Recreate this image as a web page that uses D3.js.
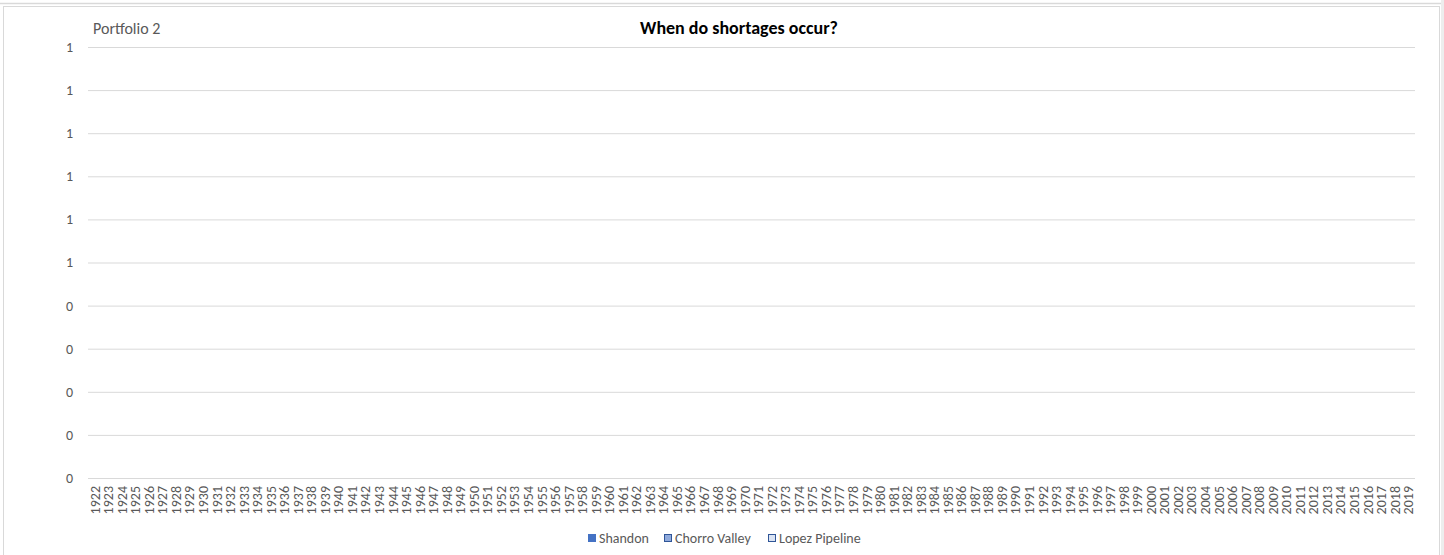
<!DOCTYPE html>
<html>
<head>
<meta charset="utf-8">
<script src="https://cdn.jsdelivr.net/npm/d3@7"></script>
<style>
  html, body { margin: 0; padding: 0; background: #ffffff; }
  svg { display: block; }
  text { font-family: Carlito, Lato, "Open Sans", sans-serif; }
</style>
</head>
<body>
<svg id="chart" width="1444" height="555"></svg>
<script>
// ---- Data ----
const years = [1922,1923,1924,1925,1926,1927,1928,1929,1930,1931,1932,1933,1934,1935,1936,1937,1938,1939,1940,1941,
  1942,1943,1944,1945,1946,1947,1948,1949,1950,1951,1952,1953,1954,1955,1956,1957,1958,1959,1960,1961,
  1962,1963,1964,1965,1966,1967,1968,1969,1970,1971,1972,1973,1974,1975,1976,1977,1978,1979,1980,1981,
  1982,1983,1984,1985,1986,1987,1988,1989,1990,1991,1992,1993,1994,1995,1996,1997,1998,1999,2000,2001,
  2002,2003,2004,2005,2006,2007,2008,2009,2010,2011,2012,2013,2014,2015,2016,2017,2018,2019];

const seriesNames = ["Shandon", "Chorro Valley", "Lopez Pipeline"];

const shandon = [0,0,0,0,0,0,0,0,0,0,0,0,0,0,0,0,0,0,0,0,
  0,0,0,0,0,0,0,0,0,0,0,0,0,0,0,0,0,0,0,0,
  0,0,0,0,0,0,0,0,0,0,0,0,0,0,0,0,0,0,0,0,
  0,0,0,0,0,0,0,0,0,0,0,0,0,0,0,0,0,0,0,0,
  0,0,0,0,0,0,0,0,0,0,0,0,0,0,0,0,0,0];
const chorroValley = [0,0,0,0,0,0,0,0,0,0,0,0,0,0,0,0,0,0,0,0,
  0,0,0,0,0,0,0,0,0,0,0,0,0,0,0,0,0,0,0,0,
  0,0,0,0,0,0,0,0,0,0,0,0,0,0,0,0,0,0,0,0,
  0,0,0,0,0,0,0,0,0,0,0,0,0,0,0,0,0,0,0,0,
  0,0,0,0,0,0,0,0,0,0,0,0,0,0,0,0,0,0];
const lopezPipeline = [0,0,0,0,0,0,0,0,0,0,0,0,0,0,0,0,0,0,0,0,
  0,0,0,0,0,0,0,0,0,0,0,0,0,0,0,0,0,0,0,0,
  0,0,0,0,0,0,0,0,0,0,0,0,0,0,0,0,0,0,0,0,
  0,0,0,0,0,0,0,0,0,0,0,0,0,0,0,0,0,0,0,0,
  0,0,0,0,0,0,0,0,0,0,0,0,0,0,0,0,0,0];

const yTickValues = [0, 0.1, 0.2, 0.3, 0.4, 0.5, 0.6, 0.7, 0.8, 0.9, 1.0];
const yTickLabels = ["0", "0", "0", "0", "0", "1", "1", "1", "1", "1", "1"];

const titleText = "When do shortages occur?";
const subtitleText = "Portfolio 2";

// ---- Styles ----
const seriesFill = ["#4472C4", "#8FAADC", "#DAE3F3"];
const seriesStroke = ["#4472C4", "#2F5597", "#2F5597"];
const textColor = "#595959";
const gridColor = "#D9D9D9";
const fontFam = "Carlito, Lato, sans-serif";

// ---- Layout ----
const svg = d3.select("#chart");
const plot = { left: 88, right: 1415, top: 47, bottom: 478 };

// chart frame
svg.append("line").attr("x1", 0).attr("x2", 1441).attr("y1", 3.5).attr("y2", 3.5)
  .attr("stroke", "#D9D9D9").attr("stroke-width", 1.5);
svg.append("rect").attr("x", 3.5).attr("y", 6.5).attr("width", 1436).attr("height", 560)
  .attr("fill", "#fff").attr("stroke", "#D9D9D9").attr("stroke-width", 1);
svg.append("rect").attr("x", 1441).attr("y", 0).attr("width", 3).attr("height", 555)
  .attr("fill", "#EDEDED");

const x = d3.scaleBand().domain(years).range([plot.left, plot.right]).paddingInner(0.2).paddingOuter(0.1);
const xPos = d3.scaleBand().domain(years).range([plot.left, plot.right]);
const y = d3.scaleLinear().domain([0, 1]).range([plot.bottom, plot.top]);

// gridlines + y axis
const yAxis = d3.axisLeft(y)
  .tickValues(yTickValues)
  .tickFormat((d, i) => yTickLabels[i])
  .tickSize(-(plot.right - plot.left))
  .tickPadding(15);
const gy = svg.append("g").attr("transform", `translate(${plot.left},0)`).call(yAxis);
gy.select(".domain").remove();
gy.selectAll(".tick line").attr("stroke", gridColor).attr("stroke-width", 1);
gy.selectAll(".tick text").attr("fill", textColor).attr("font-size", 14)
  .attr("font-family", fontFam);

// bars (all zero)
const sub = d3.scaleBand().domain(seriesNames).range([0, x.bandwidth()]);
const seriesData = [shandon, chorroValley, lopezPipeline];
seriesData.forEach((vals, si) => {
  svg.append("g").selectAll("rect").data(vals).join("rect")
    .attr("x", (d, i) => x(years[i]) + sub(seriesNames[si]))
    .attr("width", sub.bandwidth())
    .attr("y", d => y(d))
    .attr("height", d => y(0) - y(d))
    .attr("fill", seriesFill[si]);
});

// x axis
const xAxis = d3.axisBottom(xPos).tickSize(0).tickPadding(4);
const gx = svg.append("g").attr("transform", `translate(0,${plot.bottom})`).call(xAxis);
gx.select(".domain").remove();
gx.selectAll(".tick text")
  .attr("fill", textColor).attr("font-size", 14)
  .attr("font-family", fontFam)
  .attr("transform", "rotate(-90)")
  .attr("text-anchor", "end")
  .attr("x", -8).attr("y", 0).attr("dy", "0.35em");

// title
svg.append("text").attr("x", 739).attr("y", 34).attr("text-anchor", "middle")
  .attr("font-size", 18).attr("font-weight", "bold").attr("fill", "#000")
  .attr("font-family", fontFam)
  .text(titleText);
svg.append("text").attr("x", 93).attr("y", 34)
  .attr("font-size", 16).attr("fill", textColor)
  .attr("font-family", fontFam)
  .text(subtitleText);

// legend
const legendItems = [
  { name: seriesNames[0], x: 588 },
  { name: seriesNames[1], x: 664 },
  { name: seriesNames[2], x: 768 }
];
const lg = svg.append("g");
legendItems.forEach((it, i) => {
  lg.append("rect").attr("x", it.x + 0.5).attr("y", 534.5).attr("width", 7).attr("height", 7)
    .attr("fill", seriesFill[i]).attr("stroke", seriesStroke[i]).attr("stroke-width", 1);
  lg.append("text").attr("x", it.x + 11).attr("y", 543)
    .attr("font-size", 14).attr("fill", textColor)
    .attr("font-family", fontFam).text(it.name);
});
</script>
</body>
</html>
